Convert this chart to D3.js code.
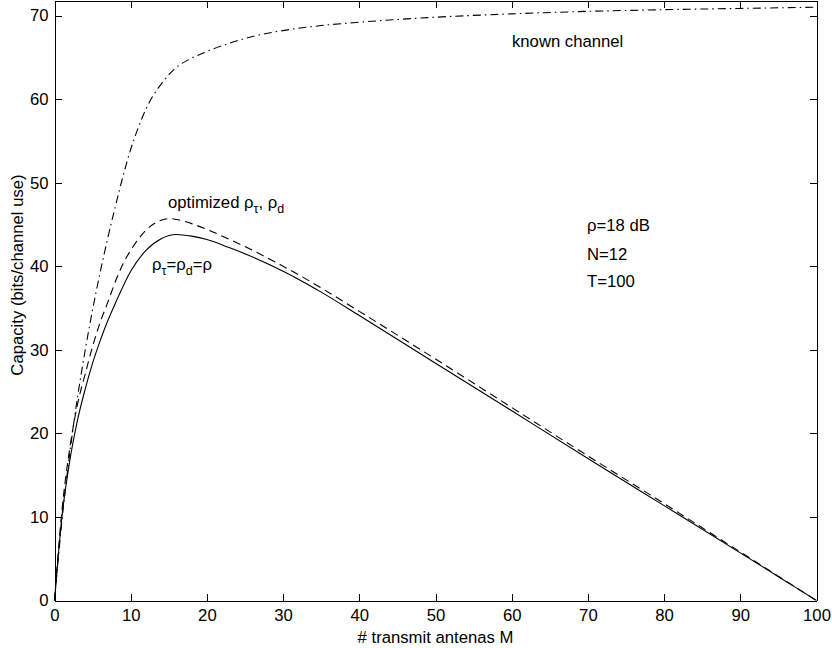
<!DOCTYPE html>
<html lang="en">
<head>
  <meta charset="UTF-8">
  <title>Capacity vs transmit antennas</title>
  <script src="https://cdnjs.cloudflare.com/ajax/libs/d3/7.8.5/d3.min.js"></script>
  <style>
    body { margin: 0; background: #fff; }
    svg { display: block; }
    text { font-family: "Liberation Sans", Arial, sans-serif; font-size: 16.7px; fill: #000; }
    .axis path, .axis line { stroke: #000; stroke-width: 1; shape-rendering: crispEdges; }
    .axis text { font-size: 16.7px; }
    .curve { fill: none; stroke: #000; stroke-width: 1.1; }
  </style>
</head>
<body>
  <svg width="832" height="648"></svg>
  <script>
    // antennas M
    const knownM = [0, 1, 2, 3, 4, 5, 6, 7, 8, 9, 10, 11, 12, 13, 14, 16, 18, 20, 23, 26, 30, 35, 40, 50, 60, 70, 80, 90, 100];
    const knownC = [0, 9.8, 17.6, 24.2, 29.8, 34.8, 39.3, 43.4, 47.2, 50.8, 54.0, 56.6, 58.8, 60.5, 61.8, 63.8, 64.9, 65.7, 66.7, 67.5, 68.2, 68.8, 69.2, 69.8, 70.2, 70.5, 70.7, 70.85, 71];

    const optM = [0, 1, 2, 3, 4, 5, 6, 7, 8, 9, 10, 12, 14, 15, 16, 18, 20, 23, 26, 30, 32, 35, 40, 50, 60, 70, 80, 90, 95, 100];
    const optC = [0, 11, 18.2, 23.4, 27, 30.4, 33.3, 35.7, 38.2, 40.3, 41.9, 44.3, 45.5, 45.7, 45.6, 45.1, 44.4, 43.2, 41.9, 40.0, 39.0, 37.4, 34.6, 28.9, 23.1, 17.3, 11.6, 5.8, 2.9, 0];

    const eqM = [0, 1, 2, 3, 4, 5, 6, 7, 8, 10, 12, 14, 16, 18, 20, 23, 26, 30, 32, 35, 40, 50, 60, 70, 80, 90, 95, 100];
    const eqC = [0, 10.2, 16.7, 21.5, 25.2, 28.4, 31.1, 33.5, 35.6, 39.4, 41.9, 43.3, 43.8, 43.6, 43.2, 42.2, 41.1, 39.4, 38.45, 36.9, 34.1, 28.4, 22.7, 17.0, 11.35, 5.7, 2.85, 0];

    const xTicks = [0, 10, 20, 30, 40, 50, 60, 70, 80, 90, 100];
    const yTicks = [0, 10, 20, 30, 40, 50, 60, 70];

    const svg = d3.select("svg");
    const plotL = 54.5, plotR = 816.5, plotB = 600.5, plotT = 0.5;

    const x = d3.scaleLinear().domain([0, 100]).range([plotL, plotR]);
    const y = d3.scaleLinear().domain([0, 71.8]).range([plotB, plotT]);

    // box + inward ticks
    svg.append("g").attr("class", "axis")
       .attr("transform", `translate(0,${plotB})`)
       .call(d3.axisBottom(x).tickValues(xTicks).tickSizeInner(-7).tickSizeOuter(0).tickPadding(9));
    svg.append("g").attr("class", "axis")
       .attr("transform", `translate(0,${plotT})`)
       .call(d3.axisTop(x).tickValues(xTicks).tickSizeInner(-7).tickSizeOuter(0).tickFormat(""));
    svg.append("g").attr("class", "axis")
       .attr("transform", `translate(${plotL},0)`)
       .call(d3.axisLeft(y).tickValues(yTicks).tickSizeInner(-7).tickSizeOuter(0).tickPadding(6));
    svg.append("g").attr("class", "axis")
       .attr("transform", `translate(${plotR},0)`)
       .call(d3.axisRight(y).tickValues(yTicks).tickSizeInner(-7).tickSizeOuter(0).tickFormat(""));

    const line = d3.line()
      .x(d => x(d[0]))
      .y(d => y(d[1]))
      .curve(d3.curveMonotoneX);

    svg.append("path").attr("class", "curve")
       .attr("d", line(knownM.map((m, i) => [m, knownC[i]])))
       .attr("stroke-dasharray", "8,4,1.5,4");
    svg.append("path").attr("class", "curve")
       .attr("d", line(optM.map((m, i) => [m, optC[i]])))
       .attr("stroke-dasharray", "8,5");
    svg.append("path").attr("class", "curve")
       .attr("d", line(eqM.map((m, i) => [m, eqC[i]])));

    // labels
    svg.append("text").attr("x", 435.5).attr("y", 643).attr("text-anchor", "middle")
       .text("# transmit antenas M");
    svg.append("text").attr("transform", "translate(23,275) rotate(-90)").attr("text-anchor", "middle")
       .text("Capacity (bits/channel use)");

    svg.append("text").attr("x", 512).attr("y", 47).text("known channel");

    const t1 = svg.append("text").attr("x", 168).attr("y", 208);
    t1.append("tspan").text("optimized \u03c1");
    t1.append("tspan").attr("dy", 5).attr("font-size", "12.5px").text("\u03c4");
    t1.append("tspan").attr("dy", -5).text(", \u03c1");
    t1.append("tspan").attr("dy", 5).attr("font-size", "12.5px").text("d");

    const t2 = svg.append("text").attr("x", 152).attr("y", 270);
    t2.append("tspan").text("\u03c1");
    t2.append("tspan").attr("dy", 5).attr("font-size", "12.5px").text("\u03c4");
    t2.append("tspan").attr("dy", -5).text("=\u03c1");
    t2.append("tspan").attr("dy", 5).attr("font-size", "12.5px").text("d");
    t2.append("tspan").attr("dy", -5).text("=\u03c1");

    svg.append("text").attr("x", 587).attr("y", 231).text("\u03c1=18 dB");
    svg.append("text").attr("x", 587).attr("y", 260).text("N=12");
    svg.append("text").attr("x", 587).attr("y", 287).text("T=100");
  </script>
</body>
</html>
